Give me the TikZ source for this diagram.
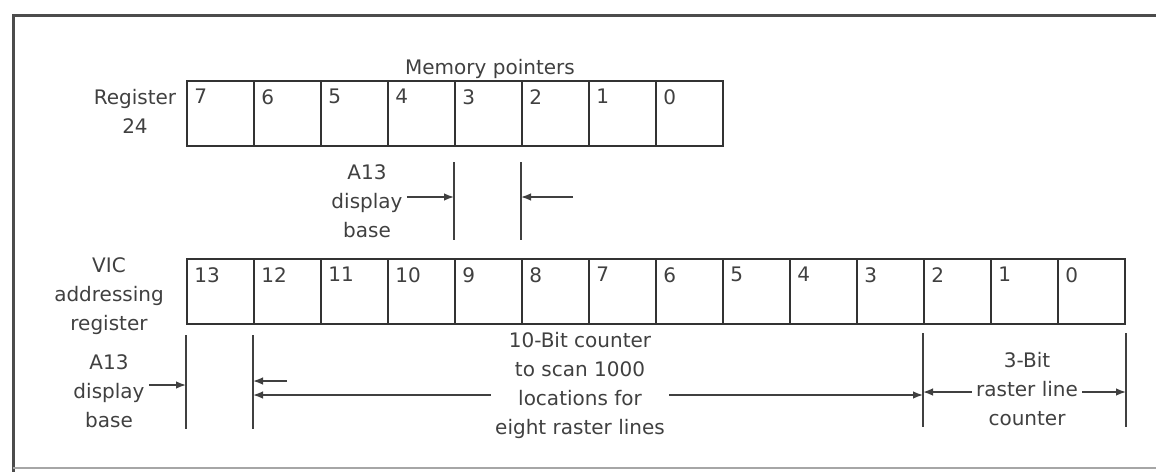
\documentclass[tikz,border=0pt]{standalone}
\usepackage{fontspec}
\setmainfont{DejaVu Sans}
\usetikzlibrary{arrows.meta,positioning,calc}

\begin{document}
\begin{tikzpicture}[
    x=0.5pt, y=-0.5pt,
    font=\fontsize{10}{14.5}\selectfont,
    every node/.style={text=black!75},
    cell/.style={draw=black!80, line width=1pt, anchor=north west, minimum width=33.5pt, minimum height=32.5pt, inner sep=0pt},
    digit/.style={anchor=north west, inner sep=0pt, xshift=4pt, yshift=-4.5pt},
    lbl/.style={align=center, inner sep=2pt},
    tick/.style={draw=black!75, line width=0.8pt},
    arr/.style={-{Latex[length=5pt,width=3.8pt]}, draw=black!75, line width=0.8pt},
    frame/.style={draw=black!70, line width=1.5pt}
  ]
    \useasboundingbox (0,0) rectangle (1156,471);
    \draw[frame] (1160,15) -- (13,15) -- (13,475);
    \draw[black!35, line width=0.8pt] (13,468) -- (1160,468);

    \foreach \b [count=\i from 0] in {7,...,0}
      \node[cell, label={[digit]north west:\b}] (r\b) at ({186+67*\i},80) {};
    \foreach \b [count=\i from 0] in {13,...,0}
      \node[cell, label={[digit]north west:\b}] (v\b) at ({186+67*\i},258) {};

    \node[lbl] (mem) at (490,69) {Memory pointers};
    \node[lbl] (reg) at (135,111) {Register\\24};
    \node[lbl] (vic) at (109,296) {VIC\\addressing\\register};
    \node[lbl] (topbase) at (367,201) {A13\\display\\base};
    \node[lbl] (lowbase) at (109,391) {A13\\display\\base};
    \node[lbl] (cnt) at (580,385) {10-Bit counter\\to scan 1000\\locations for\\eight raster lines};
    \node[lbl] (ras) at (1027,389) {3-Bit\\raster line\\counter};
    \coordinate (topend) at (573,197);
    \coordinate (shortend) at (287,381);

    \draw[tick] (r3.south west) ++(0,15) -- ++(0,78);
    \draw[tick] (r2.south west) ++(0,15) -- ++(0,78);
    \draw[tick] (v13.south west) ++(0,10) -- ++(0,94);
    \draw[tick] (v12.south west) ++(0,10) -- ++(0,94);
    \draw[tick] (v2.south west) ++(0,8) -- ++(0,94);
    \draw[tick] (v0.south east) ++(0,8) -- ++(0,94);

    \draw[arr] ([yshift=2pt]topbase.east) -- ([yshift=2pt]topbase.east -| r3.south west);
    \draw[arr] (topend) -- (topend -| r2.south west);
    \draw[arr] ([yshift=3pt]lowbase.east) -- ([yshift=3pt]lowbase.east -| v13.south west);
    \draw[arr] (shortend) -- (shortend -| v12.south west);
    \draw[arr] ([yshift=-5pt]cnt.west) -- ([yshift=-5pt]cnt.west -| v12.south west);
    \draw[arr] ([yshift=-5pt]cnt.east) -- ([yshift=-5pt]cnt.east -| v2.south west);
    \draw[arr] ([yshift=-1.5pt]ras.west) -- ([yshift=-1.5pt]ras.west -| v2.south west);
    \draw[arr] ([yshift=-1.5pt]ras.east) -- ([yshift=-1.5pt]ras.east -| v0.south east);
  \end{tikzpicture}
\end{document}
